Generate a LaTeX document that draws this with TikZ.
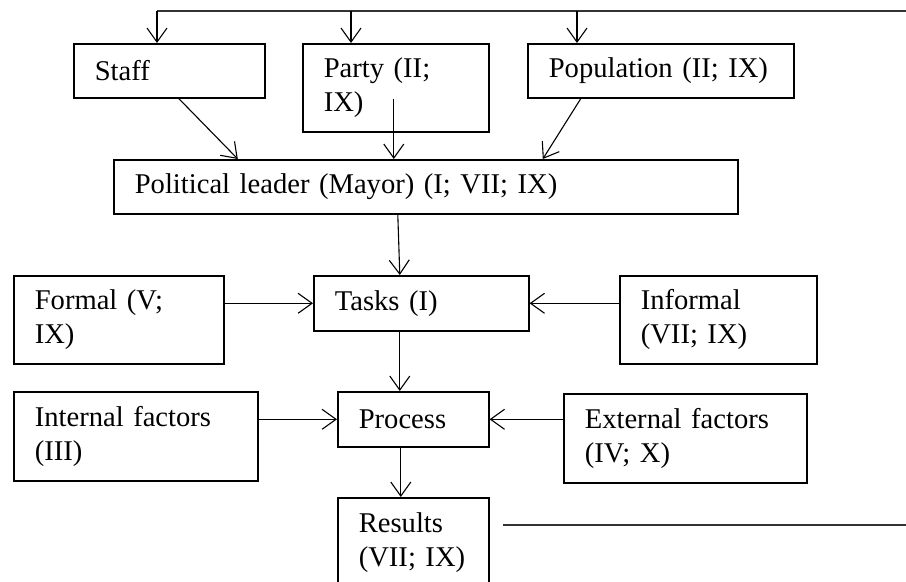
\documentclass[tikz,border=0pt]{standalone}
\usepackage{fontspec}
\setmainfont{Liberation Serif}
\usetikzlibrary{arrows.meta,calc}

\begin{document}
\begin{tikzpicture}[
    x=0.5pt,
    y=-0.5pt,
    box/.style={draw, line width=0.8pt, anchor=north west, align=left,
        inner xsep=10.5pt, inner ysep=2pt,
        font=\fontsize{14.3}{17}\selectfont},
    flow/.style={line width=0.55pt, -{Straight Barb[length=7pt, width=10pt]}},
    feedback/.style={black!80, line width=0.8pt}
]

% -------------------------------------------------------------------------
% Page
% -------------------------------------------------------------------------
\useasboundingbox (0,0) rectangle (906,582);

% -------------------------------------------------------------------------
% Actors
% -------------------------------------------------------------------------
\node[ box, minimum width=95.5pt, minimum height=27pt, text width=74.5pt ]
    (staff) at (73,43) {Staff};
\node[ box, minimum width=93pt, minimum height=44pt, text width=72pt ]
    (party) at (302,43) {Party (II;\\IX)};
\node[ box, minimum width=133pt, minimum height=27pt, text width=112pt ]
    (population) at (527,43) {Population (II; IX)};

\node[ box, minimum width=312pt, minimum height=27pt, text width=291pt ]
    (leader) at (113,159) {Political leader (Mayor) (I; VII; IX)};

% -------------------------------------------------------------------------
% Tasks row
% -------------------------------------------------------------------------
\node[ box, minimum width=105pt, minimum height=44pt, text width=84pt ]
    (formal) at (13,275) {Formal (V;\\IX)};
\node[ box, minimum width=107.5pt, minimum height=27.5pt, text width=86.5pt ]
    (tasks) at (313,275) {Tasks (I)};
\node[ box, minimum width=98.5pt, minimum height=44pt, text width=77.5pt ]
    (informal) at (619,275) {Informal\\(VII; IX)};

% -------------------------------------------------------------------------
% Process row
% -------------------------------------------------------------------------
\node[ box, minimum width=122pt, minimum height=44.5pt, text width=101pt ]
    (internal) at (13,391) {Internal factors\\(III)};
\node[ box, minimum width=75.5pt, minimum height=27.5pt, text width=54.5pt ]
    (process) at (337,391) {Process};
\node[ box, minimum width=121.5pt, minimum height=44.5pt, text width=100.5pt ]
    (external) at (563,393) {External factors\\(IV; X)};

% -------------------------------------------------------------------------
% Results
% -------------------------------------------------------------------------
\node[ box, minimum width=75.5pt, minimum height=44.5pt, text width=54.5pt ]
    (results) at (337,497) {Results\\(VII; IX)};

% -------------------------------------------------------------------------
% Feedback lines
% -------------------------------------------------------------------------
\coordinate (fb-in)  at (906,11);
\coordinate (tap-staff) at (157,11);
\coordinate (tap-party) at (351,11);
\coordinate (tap-pop)   at (577,11);
\coordinate (fb-start) at (503,525);
\coordinate (fb-out)   at (906,525);

\draw[ feedback ] (fb-in) -- (tap-staff);
\draw[ feedback ] (fb-start) -- (fb-out);

\draw[ flow ] (tap-staff) -- (tap-staff |- staff.north);
\draw[ flow ] (tap-party) -- (tap-party |- party.north);
\draw[ flow ] (tap-pop) -- (tap-pop |- population.north);

% -------------------------------------------------------------------------
% Into the leader
% -------------------------------------------------------------------------
\draw[ flow ] ($(staff.south)+(9.5,0)$) -- ($(leader.north)+(-188,0)$);
\draw[ flow ] ($(party.south)+(-2,-34)$) -- ($(leader.north)+(-32,0)$);
\draw[ flow ] ($(population.south)+(-80,0)$) -- ($(leader.north)+(117,0)$);

% -------------------------------------------------------------------------
% Down the chain
% -------------------------------------------------------------------------
\draw[ flow ] ($(leader.south)+(-28,0)$) -- ($(tasks.north)+(-21.5,0)$);
\draw[ flow ] ($(tasks.south)+(-21.5,0)$) -- ($(process.north)+(-13.5,0)$);
\draw[ flow ] ($(process.south)+(-12.5,0)$) -- ($(results.north)+(-12.5,0)$);

% side inputs
\draw[ flow ] (formal.east |- tasks.west) -- (tasks.west);
\draw[ flow ] (informal.west |- tasks.east) -- (tasks.east);
\draw[ flow ] (internal.east |- process.west) -- (process.west);
\draw[ flow ] (external.west |- process.east) -- (process.east);

\end{tikzpicture}
\end{document}
